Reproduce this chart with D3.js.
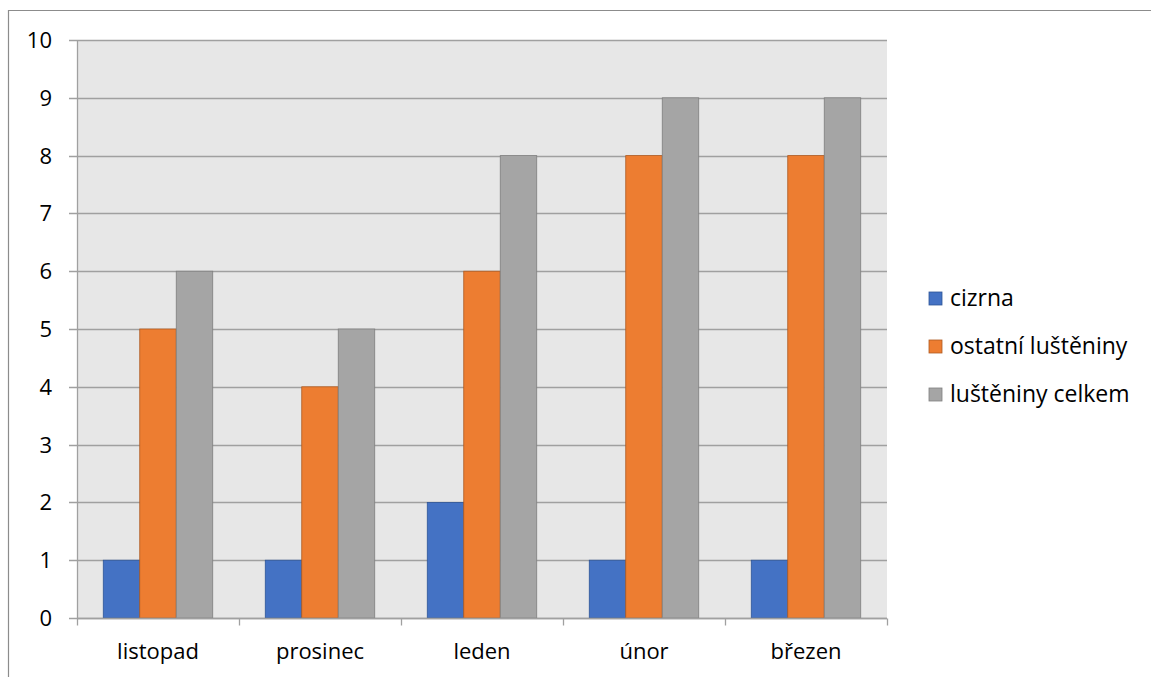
<!DOCTYPE html>
<html>
<head>
<meta charset="utf-8">
<script src="https://cdn.jsdelivr.net/npm/d3@7"></script>
<style>
  html, body { margin: 0; padding: 0; background: #fff; }
  svg { display: block; font-family: "Open Sans", "Noto Sans", sans-serif; }
</style>
</head>
<body>
<svg id="chart" width="1151" height="677"></svg>
<script>
// Monthly counts of legume dishes
const months = ["listopad", "prosinec", "leden", "únor", "březen"];
const seriesNames = ["cizrna", "ostatní luštěniny", "luštěniny celkem"];
const cizrna = [1, 1, 2, 1, 1];
const ostatni = [5, 4, 6, 8, 8];
const celkem = [6, 5, 8, 9, 9];
const yTicks = [0, 1, 2, 3, 4, 5, 6, 7, 8, 9, 10];

const colors = ["#4472C4", "#ED7D31", "#A5A5A5"];
const strokes = ["#2F5597", "#AE5A21", "#7F7F7F"];
const seriesValues = [cizrna, ostatni, celkem];

const FONT = 22;
const LEGEND_FONT = 23;
const svg = d3.select("#chart");

// outer frame (top and left edges)
svg.append("line").attr("x1", 8).attr("x2", 1151).attr("y1", 10.5).attr("y2", 10.5)
  .attr("stroke", "#8c8c8c").attr("stroke-width", 1.2);
svg.append("line").attr("x1", 8.5).attr("x2", 8.5).attr("y1", 10).attr("y2", 677)
  .attr("stroke", "#8c8c8c").attr("stroke-width", 1.2);

const plot = { left: 77, right: 887, top: 40, bottom: 618 };

const x0 = d3.scaleBand().domain(months).range([plot.left, plot.right]).paddingInner(0).paddingOuter(0);
const x1 = d3.scaleBand().domain(seriesNames).range([0, x0.bandwidth()]).paddingOuter(0.72).paddingInner(0);
const y = d3.scaleLinear().domain([0, 10]).range([plot.bottom, plot.top]);

// plot background
svg.append("rect")
  .attr("x", plot.left).attr("y", plot.top)
  .attr("width", plot.right - plot.left).attr("height", plot.bottom - plot.top)
  .attr("fill", "#E7E7E7");

// horizontal gridlines
svg.append("g").selectAll("line").data(yTicks).join("line")
  .attr("x1", plot.left - 8).attr("x2", plot.right)
  .attr("y1", d => Math.round(y(d)) + 0.5).attr("y2", d => Math.round(y(d)) + 0.5)
  .attr("stroke", "#A0A0A0").attr("stroke-width", 1.3);

// y tick labels
svg.append("g").selectAll("text").data(yTicks).join("text")
  .attr("x", 52).attr("y", d => y(d))
  .attr("dy", "0.36em")
  .attr("text-anchor", "end")
  .attr("font-size", FONT)
  .attr("fill", "#000")
  .text(d => d);

// bars
const groups = svg.append("g").selectAll("g").data(months).join("g")
  .attr("transform", d => `translate(${x0(d)},0)`);

groups.selectAll("rect")
  .data((m, i) => seriesNames.map((s, k) => ({ s, k, v: seriesValues[k][i] })))
  .join("rect")
  .attr("x", d => x1(d.s))
  .attr("y", d => y(d.v))
  .attr("width", x1.bandwidth())
  .attr("height", d => y(0) - y(d.v))
  .attr("fill", d => colors[d.k])
  .attr("stroke", d => strokes[d.k])
  .attr("stroke-width", 0.8);

// vertical axis line
svg.append("line")
  .attr("x1", plot.left + 0.5).attr("x2", plot.left + 0.5)
  .attr("y1", plot.top).attr("y2", plot.bottom)
  .attr("stroke", "#A0A0A0").attr("stroke-width", 1.3);

// category axis
const xAxisY = Math.round(y(0)) + 0.5;
svg.append("line")
  .attr("x1", plot.left).attr("x2", plot.right)
  .attr("y1", xAxisY).attr("y2", xAxisY)
  .attr("stroke", "#A0A0A0").attr("stroke-width", 1.3);

const tickXs = months.map(m => x0(m)).concat([plot.right]);
svg.append("g").selectAll("line").data(tickXs).join("line")
  .attr("x1", d => Math.round(d) + 0.5).attr("x2", d => Math.round(d) + 0.5)
  .attr("y1", xAxisY).attr("y2", xAxisY + 7)
  .attr("stroke", "#A0A0A0").attr("stroke-width", 1.3);

svg.append("g").selectAll("text").data(months).join("text")
  .attr("x", d => x0(d) + x0.bandwidth() / 2)
  .attr("y", 651)
  .attr("dy", "0.36em")
  .attr("text-anchor", "middle")
  .attr("font-size", FONT)
  .attr("fill", "#000")
  .text(d => d);

// legend
const legend = svg.append("g").selectAll("g").data(seriesNames).join("g")
  .attr("transform", (d, i) => `translate(929, ${298 + i * 48})`);
legend.append("rect")
  .attr("x", 0).attr("y", -6).attr("width", 13).attr("height", 13)
  .attr("fill", (d, i) => colors[i])
  .attr("stroke", (d, i) => strokes[i]).attr("stroke-width", 0.8);
legend.append("text")
  .attr("x", 21).attr("y", 0).attr("dy", "0.36em")
  .attr("font-size", LEGEND_FONT).attr("fill", "#000")
  .text(d => d);
</script>
</body>
</html>
